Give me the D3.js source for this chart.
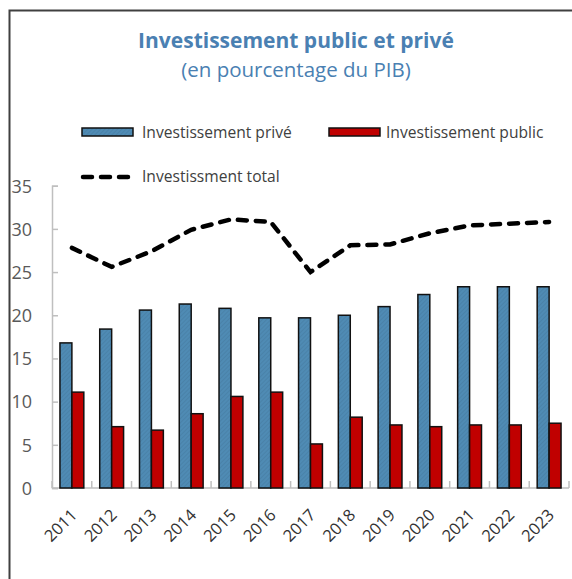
<!DOCTYPE html>
<html><head><meta charset="utf-8">
<script src="https://cdn.jsdelivr.net/npm/d3@7"></script>
<style>
html,body{margin:0;padding:0;background:#fff;}
svg{display:block;}
text{font-family:"Open Sans","Noto Sans",sans-serif;}
</style></head>
<body>
<svg id="chart" width="572" height="579"></svg>
<script>
const years = ["2011","2012","2013","2014","2015","2016","2017","2018","2019","2020","2021","2022","2023"];
const prive = [16.8,18.4,20.6,21.3,20.8,19.7,19.7,20.0,21.0,22.4,23.3,23.3,23.3];
const publicInv = [11.1,7.1,6.7,8.6,10.6,11.1,5.1,8.2,7.3,7.1,7.3,7.3,7.5];
const total = [27.8,25.6,27.4,29.9,31.1,30.8,25.0,28.1,28.2,29.5,30.4,30.6,30.8];
const yTicks = [0,5,10,15,20,25,30,35];
const seriesNames = ["Investissement privé","Investissement public","Investissment total"];

const svg = d3.select("#chart");
const defs = svg.append("defs");
const pat = defs.append("pattern").attr("id","hatch").attr("patternUnits","userSpaceOnUse")
  .attr("width",3).attr("height",3).attr("patternTransform","rotate(45)");
pat.append("rect").attr("width",3).attr("height",3).attr("fill","#4f8bb4");
pat.append("line").attr("x1",0).attr("y1",0).attr("x2",0).attr("y2",3).attr("stroke","#44799f").attr("stroke-width",1);

// frame
svg.append("path").attr("d","M9.5,579 V10.5 H572").attr("fill","none").attr("stroke","#404040").attr("stroke-width",2);

// title
svg.append("text").attr("x",296).attr("y",48).attr("text-anchor","middle")
  .attr("font-size",21).attr("font-weight","bold").attr("fill","#4a80b2")
  .text("Investissement public et privé");
svg.append("text").attr("x",296).attr("y",77).attr("text-anchor","middle")
  .attr("font-size",20.5).attr("fill","#4a80b2")
  .text("(en pourcentage du PIB)");

const x = d3.scaleBand().domain(years).range([52,569]).paddingInner(0.4).paddingOuter(0.2);
const xs = d3.scaleBand().domain(["prive","public"]).range([0,x.bandwidth()]);
const y = d3.scaleLinear().domain([0,35]).range([488,185.7]);

// y axis
const yAxis = svg.append("g").attr("transform","translate(52,0)")
  .call(d3.axisLeft(y).tickValues(yTicks).tickSize(-6).tickPadding(20));
yAxis.select(".domain").attr("stroke","#bfbfbf").attr("stroke-width",1.5);
yAxis.selectAll(".tick line").attr("stroke","#bfbfbf").attr("stroke-width",1.5);
yAxis.selectAll(".tick text").attr("font-size",18).attr("fill","#595959")
  .attr("font-family","Open Sans, Noto Sans, sans-serif").attr("dy","0.35em");

// x axis with ticks between categories
const step = x.step();
const xAxisG = svg.append("g").attr("transform","translate(0,488)");
xAxisG.append("line").attr("x1",52).attr("x2",569).attr("stroke","#bfbfbf").attr("stroke-width",1.5);
const boundaries = d3.range(years.length+1).map(i => i===0 ? 52 : (i===years.length ? 569 : x(years[i]) - step*x.paddingInner()/2));
xAxisG.selectAll("line.tk").data(boundaries).join("line").attr("class","tk")
  .attr("x1",d=>d).attr("x2",d=>d).attr("y1",0).attr("y2",-7).attr("stroke","#bfbfbf").attr("stroke-width",1.5);
xAxisG.selectAll("text.lbl").data(years).join("text").attr("class","lbl")
  .attr("transform",d=>`translate(${x(d)+x.bandwidth()/2-2},${20}) rotate(-45)`)
  .attr("text-anchor","end").attr("dy","0.7em").attr("font-size",16.5).attr("fill","#333")
  .text(d=>d);

// bars
const g = svg.append("g");
g.selectAll("rect.prive").data(years).join("rect").attr("class","prive")
  .attr("x",(d)=>x(d)+xs("prive")).attr("width",xs.bandwidth())
  .attr("y",(d,i)=>y(prive[i])).attr("height",(d,i)=>y(0)-y(prive[i]))
  .attr("fill","url(#hatch)").attr("stroke","#111").attr("stroke-width",1.5);
g.selectAll("rect.pub").data(years).join("rect").attr("class","pub")
  .attr("x",(d)=>x(d)+xs("public")).attr("width",xs.bandwidth())
  .attr("y",(d,i)=>y(publicInv[i])).attr("height",(d,i)=>y(0)-y(publicInv[i]))
  .attr("fill","#c00000").attr("stroke","#111").attr("stroke-width",1.5);

// total line
const line = d3.line().x((d,i)=>x(years[i])+x.bandwidth()/2).y(d=>y(d));
svg.append("path").datum(total).attr("d",line).attr("fill","none")
  .attr("stroke","#000").attr("stroke-width",4.5).attr("stroke-linecap","round")
  .attr("stroke-dasharray","9,9");

// legend
const lg = svg.append("g");
lg.append("rect").attr("x",82).attr("y",128).attr("width",51).attr("height",8)
  .attr("fill","url(#hatch)").attr("stroke","#111").attr("stroke-width",1.5);
lg.append("text").attr("x",142).attr("y",138).attr("font-size",15.6).attr("fill","#404040").text(seriesNames[0]);
lg.append("rect").attr("x",329).attr("y",128).attr("width",51).attr("height",8)
  .attr("fill","#c00000").attr("stroke","#111").attr("stroke-width",1.5);
lg.append("text").attr("x",386).attr("y",138).attr("font-size",15.6).attr("fill","#404040").text(seriesNames[1]);
lg.append("line").attr("x1",83).attr("x2",130).attr("y1",177).attr("y2",177)
  .attr("stroke","#000").attr("stroke-width",4.5).attr("stroke-linecap","round").attr("stroke-dasharray","9,9");
lg.append("text").attr("x",142).attr("y",182).attr("font-size",15.6).attr("fill","#404040").text(seriesNames[2]);
</script>
</body></html>
